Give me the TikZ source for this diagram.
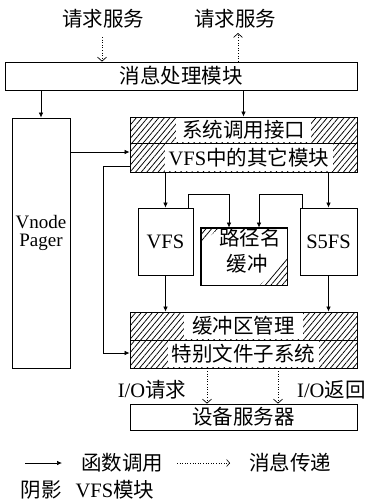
\documentclass[tikz,border=0pt]{standalone}
\usepackage{fontspec}
\setmainfont{Liberation Serif}
\newfontfamily\cjk{Noto Sans CJK SC}
\usetikzlibrary{arrows.meta,patterns.meta}
\begin{document}
\begin{tikzpicture}[x=1pt,y=-1pt,
  box/.style={draw, line width=0.8pt, fill=white, inner sep=0pt},
  hbox/.style={draw, line width=0.9pt, inner sep=0pt, pattern={Lines[angle=50,distance=4.3pt,line width=0.75pt]}},
  hatchfill/.style={pattern={Lines[angle=50,distance=4.3pt,line width=0.75pt]}},
  lbl/.style={fill=white, inner xsep=4pt, inner ysep=0pt, font=\fontsize{20.5}{22}\selectfont},
  txt/.style={inner sep=0pt, font=\fontsize{20.5}{22}\selectfont},
  fn/.style={-{Latex[length=5pt,width=4.5pt]}, line width=0.7pt},
  msgarr/.style={dash pattern=on 0.8pt off 1.8pt, line width=0.7pt, -{Straight Barb[length=4pt,width=9pt]}},
  msgleg/.style={dash pattern=on 0.8pt off 1.8pt, line width=0.6pt, -{Straight Barb[length=3pt,width=7pt]}}
]
\useasboundingbox (0,0) rectangle (368,501);
\fill[white] (0,0) rectangle (368,501);

% top labels
\node[txt] (req1) at (103,19) {\cjk 请求服务};
\node[txt] (req2) at (235,19) {\cjk 请求服务};

% main boxes
\node[box, minimum width=352pt, minimum height=28pt] (msg) at (181,76) {};
\node[txt] at (msg) {\cjk 消息处理模块};

\node[box, minimum width=58pt, minimum height=250pt] (vnode) at (41,243) {};
\node[inner sep=0pt, align=center, font=\fontsize{19}{18}\selectfont] (vn) at (41,233) {Vnode\\Pager};

\node[hbox, minimum width=227pt, minimum height=26pt] (sys) at (243.5,130) {};
\node[lbl, minimum height=24.5pt, inner xsep=6pt] at (sys) {\cjk 系统调用接口};
\node[hbox, minimum width=227pt, minimum height=29pt] (oth) at (243.5,157.5) {};
\node[lbl, minimum height=27.5pt] at (249,157.5) {VFS{\cjk 中的其它模块}};

\node[box, minimum width=55pt, minimum height=67pt] (vfs) at (165.5,241.5) {};
\node[txt] at (vfs) {VFS};
\node[box, minimum width=57pt, minimum height=67pt] (s5) at (328.5,241.5) {};
\node[txt] at (s5) {S5FS};

\node[box, minimum width=86pt, minimum height=57pt] (path) at (244,256.5) {};
\fill[hatchfill] (path.north west) -- ++(19,0) -- ++(-19,17) -- cycle;
\fill[hatchfill] (path.south east) -- ++(-28,0) -- ++(28,-28) -- cycle;
\draw[line width=0.8pt] (path.north west) rectangle (path.south east);
\node[txt] at (250,238) {\cjk 路径名};
\node[txt] at (247,264) {\cjk 缓冲};

\node[hbox, minimum width=227pt, minimum height=28pt] (buf) at (243.5,326) {};
\node[lbl, minimum height=26.5pt, inner xsep=8pt] at (buf) {\cjk 缓冲区管理};
\node[hbox, minimum width=227pt, minimum height=28pt] (tfs) at (243.5,354) {};
\node[lbl, minimum height=26.5pt] at (tfs) {\cjk 特别文件子系统};

\node[box, minimum width=227pt, minimum height=26pt] (dev) at (243.5,417) {};
\node[txt] at (dev) {\cjk 设备服务器};

% message arrows at top
\coordinate (q1) at (102,37);
\coordinate (q2) at (238,33);
\draw[msgarr] (q1) -- (q1 |- msg.north);
\draw[msgarr] (q2 |- msg.north) -- (q2);

% function-call connectors
\draw[fn] (msg.south -| vnode.north) -- (vnode.north);
\draw[fn] (msg.south -| sys.north) -- (sys.north);
\draw[fn] (vnode.east |- 0,152) -- (oth.west |- 0,152);
\draw[fn] (oth.west |- 0,166) -- (103,166) |- (tfs.west |- 0,353);
\draw[fn] (oth.south -| vfs.north) -- (vfs.north);
\draw[fn] (oth.south -| s5.north) -- (s5.north);
\draw[fn] (188,0 |- vfs.north) -- (188,194) -| (229,0 |- path.north);
\draw[fn] (302,0 |- s5.north) -- (302,194) -| (259,0 |- path.north);
\draw[fn] (vfs.south) -- (vfs.south |- buf.north);
\draw[fn] (s5.south) -- (s5.south |- buf.north);

% message arrows at bottom
\draw[msgarr] (207,0 |- tfs.south) -- (207,0 |- dev.north);
\draw[msgarr] (278,0 |- tfs.south) -- (278,0 |- dev.north);
\node[txt] (io1) at (152,390) {I/O{\cjk 请求}};
\node[txt, anchor=west] (io2) at (297,390) {I/O{\cjk 返回}};

% legend
\coordinate (l1) at (25,463);
\coordinate (l2) at (62,463);
\draw[fn] (l1) -- (l2);
\node[txt] (lg1) at (122,463) {\cjk 函数调用};
\coordinate (l3) at (177,463);
\coordinate (l4) at (230,463);
\draw[msgleg] (l3) -- (l4);
\node[txt] (lg2) at (290,463) {\cjk 消息传递};
\node[txt] (lg3) at (41,490) {\cjk 阴影};
\node[txt] (lg4) at (115,490) {VFS{\cjk 模块}};
\end{tikzpicture}
\end{document}
